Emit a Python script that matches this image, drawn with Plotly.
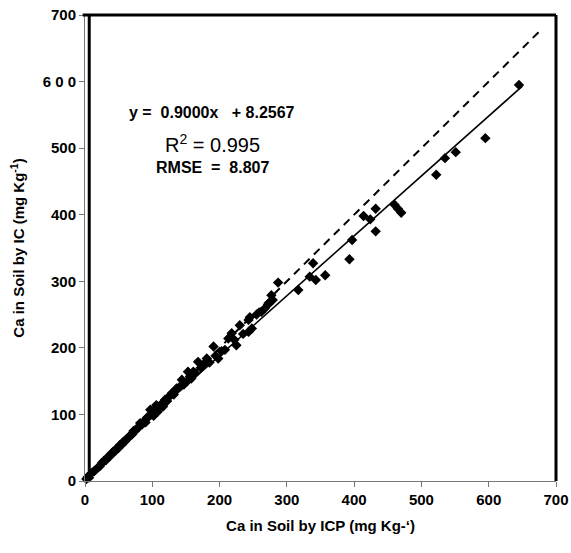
import plotly.graph_objects as go

icp = [2, 4, 6, 10, 14, 18, 22, 25, 28, 31, 34, 37, 40, 42, 45, 47, 50, 52, 55, 57,
       60, 62, 65, 67, 70, 72, 75, 78, 80, 82, 85, 88, 90, 92, 95, 97, 98, 100, 102, 104,
       106, 108, 110, 113, 116, 119, 122, 125, 129, 132, 136, 140, 144, 147, 151, 153, 156, 158, 161, 164,
       168, 172, 176, 181, 185, 191, 194, 198, 203, 208, 213, 218, 222, 225, 230, 235, 243, 243, 245, 248,
       255, 262, 267, 272, 277, 279, 287, 317, 334, 339, 343, 357, 393, 397, 414, 424, 432, 432, 460, 465,
       470, 522, 535, 551, 595, 645]
ic = [3, 6, 5, 12, 15, 19, 22, 27, 30, 31, 36, 37, 42, 44, 45, 49, 50, 54, 55, 59,
      60, 63, 66, 68, 70, 75, 76, 79, 82, 87, 85, 90, 88, 95, 97, 107, 100, 102, 98, 108,
      114, 104, 110, 115, 112, 122, 120, 127, 132, 130, 139, 141, 152, 145, 149, 164, 157, 154, 164, 162,
      179, 170, 175, 184, 178, 202, 188, 184, 195, 197, 214, 222, 212, 204, 234, 221, 242, 224, 246, 229,
      250, 254, 259, 265, 279, 272, 298, 287, 307, 327, 302, 309, 333, 362, 398, 393, 409, 375, 415, 409,
      403, 460, 485, 494, 515, 595]

# Fit and reference line
slope = 0.9000
intercept = 8.2567
fit_x = [0, 650]
one_to_one = [0, 680]

x_ticks = [0, 100, 200, 300, 400, 500, 600, 700]
x_ticktext = ["0", "100", "200", "300", "400", "500", "600", "700"]
y_ticks = [0, 100, 200, 300, 400, 500, 600, 700]
y_ticktext = ["0", "100", "200", "300", "400", "500", "6 0 0", "700"]

FONT = "Arial, Liberation Sans, sans-serif"
NB = "\u00a0"

fig = go.Figure()

fig.add_trace(go.Scatter(
    x=one_to_one, y=one_to_one, mode="lines",
    line=dict(color="black", width=2, dash="8px,6px"),
    hoverinfo="skip", showlegend=False))

fig.add_trace(go.Scatter(
    x=fit_x, y=[slope * v + intercept for v in fit_x], mode="lines",
    line=dict(color="black", width=1.6),
    hoverinfo="skip", showlegend=False))

fig.add_trace(go.Scatter(
    x=icp, y=ic, mode="markers",
    marker=dict(symbol="diamond", size=8, color="black"),
    cliponaxis=False, showlegend=False))

axis_common = dict(
    showgrid=False, zeroline=False, showline=True, automargin=False,
    linecolor="#777777", linewidth=1,
    ticks="outside", ticklen=5, tickcolor="#777777",
    ticklabeloverflow="allow",
    tickfont=dict(family=FONT, size=15, color="black", weight="bold"),
    range=[0, 700],
)

eq_text = f"<b>y{NB}={NB}{NB}0.9000x{NB}{NB}{NB}+{NB}8.2567</b>"
r2_text = f"R<sup>2</sup>{NB}={NB}0.995"
rmse_text = f"<b>RMSE{NB}{NB}={NB}{NB}8.807</b>"

fig.update_layout(
    width=571, height=553,
    margin=dict(l=85, r=15, t=15, b=72),
    paper_bgcolor="white", plot_bgcolor="white",
    xaxis=dict(**axis_common, tickvals=x_ticks, ticktext=x_ticktext,
               title=dict(text="Ca in Soil by ICP (mg Kg-‘)", standoff=13,
                          font=dict(family=FONT, size=15, color="black", weight="bold"))),
    yaxis=dict(**axis_common, tickvals=y_ticks, ticktext=y_ticktext,
               title=dict(text="Ca in Soil by IC (mg Kg<sup>-1</sup>)", standoff=14,
                          font=dict(family=FONT, size=15, color="black", weight="bold"))),
    shapes=[
        dict(type="line", xref="paper", yref="paper", x0=-0.005, x1=1.0, y0=1, y1=1,
             line=dict(color="black", width=3)),
        dict(type="line", xref="paper", yref="paper", x0=1, x1=1, y0=0, y1=1,
             line=dict(color="black", width=3)),
        dict(type="line", xref="paper", yref="paper", x0=0.009, x1=0.009, y0=0.02, y1=1,
             line=dict(color="black", width=3)),
    ],
    annotations=[
        dict(text=eq_text, xref="paper", yref="paper",
             x=0.27, y=0.791, xanchor="center", yanchor="middle", showarrow=False,
             font=dict(family=FONT, size=16, color="black")),
        dict(text=r2_text, xref="paper", yref="paper",
             x=0.27, y=0.725, xanchor="center", yanchor="middle", showarrow=False,
             font=dict(family=FONT, size=20, color="black")),
        dict(text=rmse_text, xref="paper", yref="paper",
             x=0.27, y=0.672, xanchor="center", yanchor="middle", showarrow=False,
             font=dict(family=FONT, size=16, color="black")),
    ],
)

fig.write_html("out.html", config={"displayModeBar": False},
               post_script="document.body.style.margin='0';")
